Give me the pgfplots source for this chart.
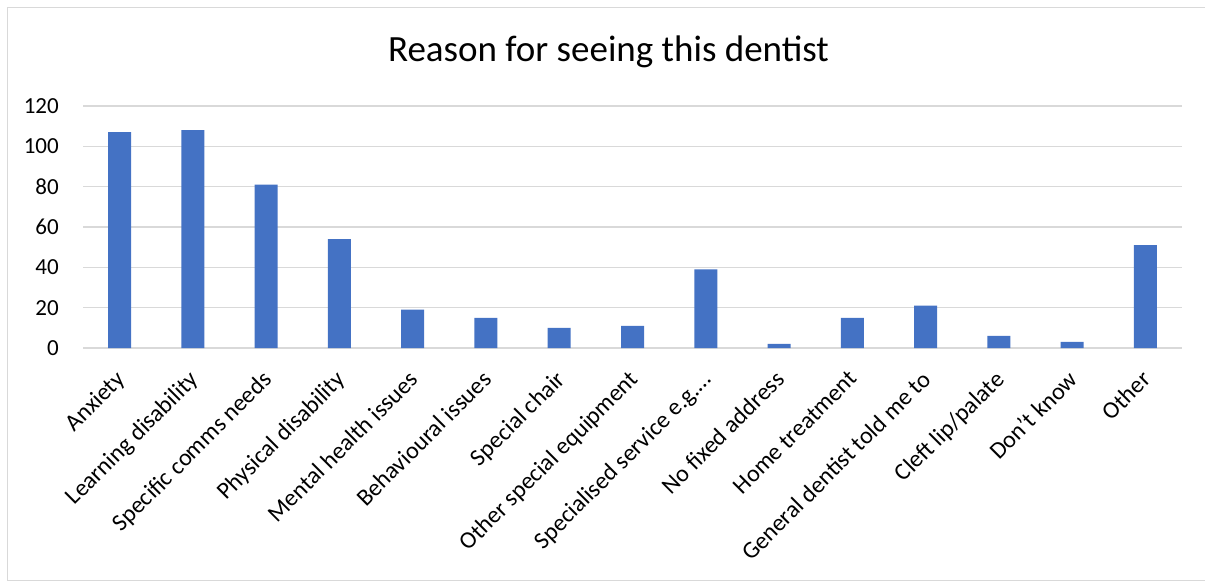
\documentclass[border=0pt]{standalone}
\usepackage{pgfplots}
\pgfplotsset{compat=1.18}
\usepackage{fontspec}
\setmainfont{Carlito}
\definecolor{barblue}{HTML}{4472C4}
\definecolor{gridgray}{HTML}{D9D9D9}
\begin{document}
\begin{tikzpicture}[x=1pt,y=1pt]
\useasboundingbox (0pt,0pt) rectangle (1205pt,581pt);
% chart frame
\draw[gridgray, line width=1.2pt] (7.5pt,0.6pt) rectangle (1207pt,573.5pt);
% chart title
\node[font=\fontsize{37}{44}\selectfont, anchor=base, inner sep=0pt] at (608.5pt,519pt) {Reason for seeing this dentist};
\begin{axis}[
  at={(83pt,233pt)}, anchor=south west,
  width=1099pt, height=242pt, scale only axis,
  xmin=-0.5, xmax=14.5, ymin=0, ymax=120,
  ytick={0,20,...,120},
  xtick=data,
  xticklabels={Anxiety, Learning disability, Specific comms needs, Physical disability, Mental health issues, Behavioural issues, Special chair, Other special equipment, Specialised service e.g.…, No fixed address, Home treatment, General dentist told me to, Cleft lip/palate, Don't know, Other},
  axis line style={draw=none},
  major tick length=0pt,
  ymajorgrids,
  grid style={gridgray, line width=1.3pt},
  /pgf/number format/assume math mode=true,
  ticklabel style={font=\fontsize{23}{27}\selectfont},
  yticklabel style={anchor=east, inner sep=0pt, xshift=-24pt},
  xticklabel style={xshift=-5pt, yshift=-21pt, rotate=45, anchor=north east, inner sep=0pt, font=\fontsize{24}{28}\selectfont},
  clip=false,
]
\addplot[ybar, bar width=23pt, fill=barblue, draw=none] coordinates {
  (0,107) (1,108) (2,81) (3,54) (4,19) (5,15) (6,10) (7,11)
  (8,39) (9,2) (10,15) (11,21) (12,6) (13,3) (14,51)
};
\end{axis}
\end{tikzpicture}
\end{document}
